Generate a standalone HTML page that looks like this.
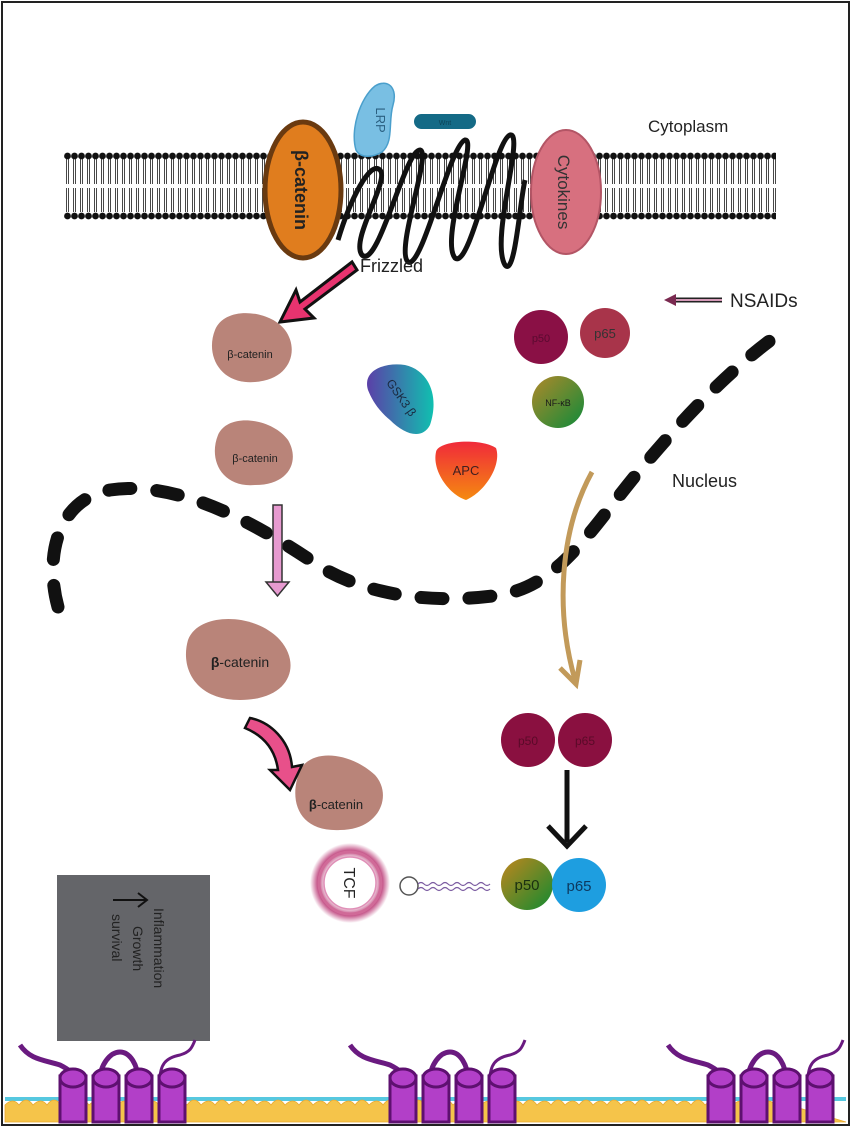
<!DOCTYPE html>
<html><head><meta charset="utf-8"><style>
html,body{margin:0;padding:0;background:#fff}
svg{display:block}
text{font-family:"Liberation Sans",sans-serif}
</style></head><body>
<svg width="851" height="1127" viewBox="0 0 851 1127" xmlns="http://www.w3.org/2000/svg">
<defs>
<pattern id="lip" x="64" y="152" width="7" height="70" patternUnits="userSpaceOnUse">
<circle cx="3.5" cy="4" r="3.4" fill="#111"/>
<line x1="2.5" y1="7" x2="2.5" y2="32" stroke="#333" stroke-width="0.9"/>
<line x1="4.5" y1="7" x2="4.5" y2="32" stroke="#333" stroke-width="0.9"/>
<line x1="2.5" y1="36" x2="2.5" y2="60" stroke="#333" stroke-width="0.9"/>
<line x1="4.5" y1="36" x2="4.5" y2="60" stroke="#333" stroke-width="0.9"/>
<circle cx="3.5" cy="64" r="3.4" fill="#111"/>
</pattern>
<linearGradient id="gsk" x1="0" y1="0" x2="1" y2="0"><stop offset="0" stop-color="#5b3fa8"/><stop offset="1" stop-color="#10c0b0"/></linearGradient>
<linearGradient id="apc" x1="0" y1="0" x2="0" y2="1"><stop offset="0" stop-color="#f02a3a"/><stop offset="1" stop-color="#f58a10"/></linearGradient>
<linearGradient id="nfk" x1="0" y1="0" x2="1" y2="1"><stop offset="0" stop-color="#b0892a"/><stop offset="1" stop-color="#0f8a3a"/></linearGradient>
<linearGradient id="p50g" x1="0" y1="0" x2="1" y2="1"><stop offset="0" stop-color="#c0861e"/><stop offset="1" stop-color="#128a30"/></linearGradient>
<radialGradient id="tcf"><stop offset="0.6" stop-color="#fff"/><stop offset="0.8" stop-color="#c04880"/><stop offset="1" stop-color="#fff"/></radialGradient>
</defs>
<rect x="2" y="2" width="847" height="1123" fill="#fff" stroke="#222" stroke-width="2"/>

<rect x="64" y="152" width="712" height="70" fill="url(#lip)"/>

<g fill="none" stroke="#111" stroke-width="5">
<path d="M338,240 C350,200 370,160 380,170 C390,180 350,240 362,255 C378,270 405,150 420,150 C432,152 395,250 408,262 C422,270 450,145 465,140 C478,138 440,240 455,258 C470,270 495,140 510,135 C525,132 490,240 505,265 C515,278 520,200 525,180"/>
</g>
<ellipse cx="303" cy="190" rx="38" ry="68" fill="#e07d1e" stroke="#6a3a10" stroke-width="5"/>
<text transform="translate(295,190) rotate(90)" text-anchor="middle" font-size="18" font-weight="bold" fill="#222">β-catenin</text>
<path d="M356,150 C350,130 360,98 375,86 C388,78 398,88 393,105 C388,122 394,142 382,152 C372,158 360,158 356,150Z" fill="#79bfe3" stroke="#4a9fcc" stroke-width="1.5"/>
<text transform="translate(376,120) rotate(90)" text-anchor="middle" font-size="13" fill="#2a5f80">LRP</text>
<rect x="414" y="114" width="62" height="15" rx="7.5" fill="#146a86"/>
<text x="445" y="125" text-anchor="middle" font-size="7" fill="#0b4458">Wnt</text>
<ellipse cx="566" cy="192" rx="35" ry="62" fill="#d7707f" stroke="#b35565" stroke-width="2"/>
<text transform="translate(558,192) rotate(90)" text-anchor="middle" font-size="17" fill="#333">Cytokines</text>
<text x="648" y="132" font-size="17" fill="#222">Cytoplasm</text>
<text x="360" y="272" font-size="18" fill="#222">Frizzled</text>

<path d="M352,262 L300,302 L296,290 L280,322 L314,318 L305,309 L357,270Z" fill="#e8336f" stroke="#111" stroke-width="3"/>

<g fill="#b98479">
<path d="M215,330 C225,305 270,310 285,330 C300,350 290,380 255,382 C220,385 205,355 215,330Z"/>
<path d="M218,435 C228,412 272,418 288,440 C300,460 290,485 255,485 C222,488 208,460 218,435Z"/>
<path d="M188,640 C198,612 255,612 280,640 C302,665 290,700 240,700 C195,700 180,668 188,640Z"/>
<path d="M300,770 C312,748 350,752 375,775 C393,795 380,830 340,830 C298,832 288,800 300,770Z"/>
</g>
<text x="250" y="358" text-anchor="middle" font-size="11" fill="#222">β-catenin</text>
<text x="255" y="462" text-anchor="middle" font-size="11" fill="#222">β-catenin</text>
<text x="240" y="667" text-anchor="middle" font-size="14" fill="#222"><tspan font-weight="bold">β</tspan>-catenin</text>
<text x="336" y="809" text-anchor="middle" font-size="13" fill="#222"><tspan font-weight="bold">β</tspan>-catenin</text>

<path d="M368,390 C362,370 385,362 405,365 C428,370 440,395 430,425 C422,440 405,435 390,420 C378,410 372,400 368,390Z" fill="url(#gsk)"/>
<text transform="translate(398,400) rotate(55)" text-anchor="middle" font-size="12" fill="#1a2a40">GSK3 β</text>
<path d="M436,452 C438,440 482,438 496,448 C502,465 485,492 466,500 C448,494 432,470 436,452Z" fill="url(#apc)"/>
<text x="466" y="475" text-anchor="middle" font-size="13" fill="#402020">APC</text>

<circle cx="541" cy="337" r="27" fill="#8a1045"/>
<text x="541" y="342" text-anchor="middle" font-size="11" fill="#5a0a30">p50</text>
<circle cx="605" cy="333" r="25" fill="#a8344a"/>
<text x="605" y="338" text-anchor="middle" font-size="13" fill="#333">p65</text>
<circle cx="558" cy="402" r="26" fill="url(#nfk)"/>
<text x="558" y="406" text-anchor="middle" font-size="9" fill="#1a1a1a">NF-κB</text>

<line x1="672" y1="300" x2="722" y2="300" stroke="#222" stroke-width="5"/>
<line x1="672" y1="300" x2="722" y2="300" stroke="#d59ab8" stroke-width="2"/>
<path d="M664,300 L676,294 L676,306Z" fill="#7a2a50"/>
<text x="730" y="307" font-size="19" fill="#222">NSAIDs</text>
<text x="672" y="487" font-size="18" fill="#222">Nucleus</text>

<path d="M58,607 C45,560 55,500 110,490 C175,480 250,520 310,560 C360,595 430,605 500,595 C560,585 590,530 640,470 C690,410 740,360 785,330" fill="none" stroke="#111" stroke-width="13" stroke-linecap="round" stroke-dasharray="22 26"/>

<path d="M592,472 C560,530 555,610 575,680" fill="none" stroke="#c29a5a" stroke-width="5"/>
<path d="M560,668 L576,684 L580,660" fill="none" stroke="#c29a5a" stroke-width="5"/>

<rect x="273" y="505" width="9" height="80" fill="#e79ad0" stroke="#333" stroke-width="1.5"/>
<path d="M266,582 L289,582 L277.5,596Z" fill="#e79ad0" stroke="#333" stroke-width="1.5"/>

<path d="M245,728 C262,735 275,748 278,770 L270,770 L290,790 L302,765 L292,767 C290,740 270,722 250,718Z" fill="#e8508a" stroke="#111" stroke-width="2.5"/>

<circle cx="528" cy="740" r="27" fill="#8a1040"/>
<text x="528" y="745" text-anchor="middle" font-size="12" fill="#5a0a28">p50</text>
<circle cx="585" cy="740" r="27" fill="#8a1040"/>
<text x="585" y="745" text-anchor="middle" font-size="12" fill="#5a0a28">p65</text>
<line x1="567" y1="770" x2="567" y2="842" stroke="#111" stroke-width="5"/>
<path d="M548,826 L567,846 L586,826" fill="none" stroke="#111" stroke-width="5"/>

<circle cx="527" cy="884" r="26" fill="url(#p50g)"/>
<text x="527" y="890" text-anchor="middle" font-size="15" fill="#1a3010">p50</text>
<circle cx="579" cy="885" r="27" fill="#1e9ee0"/>
<text x="579" y="891" text-anchor="middle" font-size="15" fill="#0d3a60">p65</text>

<circle cx="350" cy="883" r="40" fill="url(#tcf)"/>
<circle cx="350" cy="883" r="31" fill="none" stroke="#d06a98" stroke-width="3"/>
<circle cx="350" cy="883" r="26" fill="#fff" stroke="#e090b8" stroke-width="1.5"/>
<text transform="translate(344,883) rotate(90)" text-anchor="middle" font-size="16" fill="#222">TCF</text>
<circle cx="409" cy="886" r="9" fill="#fff" stroke="#555" stroke-width="1.5"/>
<path d="M418,884 q3,-3 6,0 t6,0 t6,0 t6,0 t6,0 t6,0 t6,0 t6,0 t6,0 t6,0 t6,0 t6,0" fill="none" stroke="#7a5aa0" stroke-width="1.2"/>
<path d="M418,889 q3,-3 6,0 t6,0 t6,0 t6,0 t6,0 t6,0 t6,0 t6,0 t6,0 t6,0 t6,0 t6,0" fill="none" stroke="#7a5aa0" stroke-width="1.2"/>

<rect x="57" y="875" width="153" height="166" fill="#646569"/>
<line x1="113" y1="900" x2="146" y2="900" stroke="#111" stroke-width="2"/>
<path d="M138,893 L147,900 L138,907" fill="none" stroke="#111" stroke-width="2"/>
<text transform="translate(154,908) rotate(90)" font-size="14" fill="#222">
<tspan x="0" y="0">Inflammation</tspan>
<tspan x="18" y="21">Growth</tspan>
<tspan x="6" y="42">survival</tspan>
</text>

<rect x="5" y="1097" width="841" height="4" fill="#56c8e0"/>
<g fill="#f5c44a" stroke="#e8a830" stroke-width="0.8">
<path d="M5,1122 L5,1105 q8,-8 14,0 q7,-10 14,0 q8,-8 14,0 q7,-10 14,0 q8,-8 14,0 q7,-10 14,0 q8,-8 14,0 q7,-10 14,0 q8,-8 14,0 q7,-10 14,0 q8,-8 14,0 q7,-10 14,0 q8,-8 14,0 q7,-10 14,0 q8,-8 14,0 q7,-10 14,0 q8,-8 14,0 q7,-10 14,0 q8,-8 14,0 q7,-10 14,0 q8,-8 14,0 q7,-10 14,0 q8,-8 14,0 q7,-10 14,0 q8,-8 14,0 q7,-10 14,0 q8,-8 14,0 q7,-10 14,0 q8,-8 14,0 q7,-10 14,0 q8,-8 14,0 q7,-10 14,0 q8,-8 14,0 q7,-10 14,0 q8,-8 14,0 q7,-10 14,0 q8,-8 14,0 q7,-10 14,0 q8,-8 14,0 q7,-10 14,0 q8,-8 14,0 q7,-10 14,0 q8,-8 14,0 q7,-10 14,0 q8,-8 14,0 q7,-10 14,0 q8,-8 14,0 q7,-10 14,0 q8,-8 14,0 q7,-10 14,0 q8,-8 14,0 q7,-10 14,0 q8,-8 14,0 q7,-10 14,0 q8,-8 14,0 q7,-10 14,0 L846,1122Z"/>
</g>
<g id="rec">
<path d="M20,1045 C30,1060 45,1060 60,1065 C70,1070 75,1075 78,1080" fill="none" stroke="#6a1a80" stroke-width="5"/>
<path d="M100,1080 C100,1065 110,1052 120,1052 C130,1052 138,1065 138,1080" fill="none" stroke="#6a1a80" stroke-width="5"/>
<path d="M160,1080 C160,1065 165,1058 180,1055 C190,1052 192,1048 195,1040" fill="none" stroke="#6a1a80" stroke-width="3"/>
<g fill="#b23fc8" stroke="#5e1070" stroke-width="3">
<rect x="60" y="1076" width="26" height="46"/><ellipse cx="73" cy="1078" rx="13" ry="9"/>
<rect x="93" y="1076" width="26" height="46"/><ellipse cx="106" cy="1078" rx="13" ry="9"/>
<rect x="126" y="1076" width="26" height="46"/><ellipse cx="139" cy="1078" rx="13" ry="9"/>
<rect x="159" y="1076" width="26" height="46"/><ellipse cx="172" cy="1078" rx="13" ry="9"/>
</g>
</g>
<use href="#rec" x="330"/>
<use href="#rec" x="648"/>
<rect x="848" y="1030" width="3" height="97" fill="#fff"/>
<rect x="2" y="2" width="847" height="1123" fill="none" stroke="#222" stroke-width="2"/>
</svg>
</body></html>
